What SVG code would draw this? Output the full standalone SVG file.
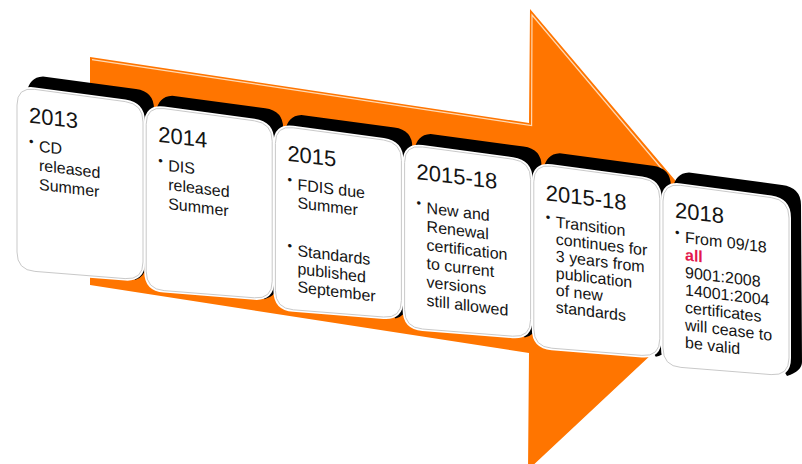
<svg xmlns="http://www.w3.org/2000/svg" width="802" height="464" viewBox="0 0 802 464">
<style>
.arrow{fill:#ff7500}
.hl{fill:none;stroke:#ffd9b3;stroke-width:1.2}
.back{fill:#000}
.face{fill:#fff;stroke:#fff;stroke-width:4}
.rim{fill:none;stroke:#c9c9c9;stroke-width:1}
text{font-family:"Liberation Sans",Arial,sans-serif;fill:#141414}
.yr{font-size:22px}
.tx{font-size:16px}
.bu{font-size:13px}
.red{fill:#e3174d;font-weight:bold}
</style>
<defs>
<path id="face" d="M0,18 Q0,0 17.8,2.4 L108.2,14.6 Q126,17 126,35 L126,175 Q126,193 108.1,191.6 L17.9,184.4 Q0,183 0,165 Z"/>
</defs>
<rect width="802" height="464" fill="#fff"/>
<g id="arrow">
<polygon class="arrow" points="90,57 529,123 530,9 747,265 528,470 529,353 90,285"/>
<polyline class="hl" points="92,59.6 531.6,125.6 532,15 662,169"/>
</g>
<g id="connectors"/>
<g id="card-2013" transform="translate(17,87)">
<path class="back" d="M10,4 C12,-4 16,-10 26,-10.5 L119,2 Q137,4.5 137,22 L128,180 Q128,190 118,193 Z"/>
<use href="#face" class="face"/><use href="#face" class="rim"/>
<g transform="skewY(7)">
<text class="yr" x="12" y="34">2013</text>
<text class="bu" x="12" y="57">•</text>
<text class="tx"><tspan x="22" y="62">CD</tspan><tspan x="22" y="81">released</tspan><tspan x="22" y="100">Summer</tspan></text>
</g>
</g>
<g id="card-2014" transform="translate(146.2,106.2)">
<path class="back" d="M10,4 C12,-4 16,-10 26,-10.5 L119,2 Q137,4.5 137,22 L130,180 Q130,190 118,193 Z"/>
<use href="#face" class="face"/><use href="#face" class="rim"/>
<g transform="skewY(7)">
<text class="yr" x="12" y="34">2014</text>
<text class="bu" x="12" y="57">•</text>
<text class="tx"><tspan x="22" y="62">DIS</tspan><tspan x="22" y="81">released</tspan><tspan x="22" y="100">Summer</tspan></text>
</g>
</g>
<g id="card-2015" transform="translate(275.4,125.4)">
<path class="back" d="M10,4 C12,-4 16,-10 26,-10.5 L119,2 Q137,4.5 137,22 L131,180 Q131,190 120,193 Z"/>
<use href="#face" class="face"/><use href="#face" class="rim"/>
<g transform="skewY(7)">
<text class="yr" x="12" y="34">2015</text>
<text class="bu" x="12" y="57">•</text>
<text class="tx"><tspan x="22" y="62">FDIS due</tspan><tspan x="22" y="80">Summer</tspan></text>
<text class="bu" x="12" y="123">•</text>
<text class="tx"><tspan x="22" y="128">Standards</tspan><tspan x="22" y="146">published</tspan><tspan x="22" y="164">September</tspan></text>
</g>
</g>
<g id="card-2015-18-a" transform="translate(404.6,144.6)">
<path class="back" d="M10,4 C12,-4 16,-10 26,-10.5 L119,2 Q137,4.5 137,22 L132,180 Q132,190 120,193 Z"/>
<use href="#face" class="face"/><use href="#face" class="rim"/>
<g transform="skewY(7)">
<text class="yr" x="12" y="33">2015-18</text>
<text class="bu" x="12" y="61">•</text>
<text class="tx"><tspan x="22" y="66">New and</tspan><tspan x="22" y="84.5">Renewal</tspan><tspan x="22" y="103">certification</tspan><tspan x="22" y="121.5">to current</tspan><tspan x="22" y="140">versions</tspan><tspan x="22" y="158.5">still allowed</tspan></text>
</g>
</g>
<g id="card-2015-18-b" transform="translate(533.8,163.8)">
<path class="back" d="M10,4 C12,-4 16,-10 26,-10.5 L119,2 Q137,4.5 137,22 L135,180 Q135,190 122,193 Z"/>
<use href="#face" class="face"/><use href="#face" class="rim"/>
<g transform="skewY(7)">
<text class="yr" x="12" y="35">2015-18</text>
<text class="bu" x="12" y="56">•</text>
<text class="tx"><tspan x="22" y="61">Transition</tspan><tspan x="22" y="78">continues for</tspan><tspan x="22" y="95">3 years from</tspan><tspan x="22" y="112">publication</tspan><tspan x="22" y="129">of new</tspan><tspan x="22" y="146">standards</tspan></text>
</g>
</g>
<g id="card-2018" transform="translate(663,183)">
<path class="back" d="M10,4 C12,-4 16,-10 26,-10.5 L119,2 Q138,4.5 138,22 L139,179 Q139,188 124,193 Z"/>
<use href="#face" class="face"/><use href="#face" class="rim"/>
<g transform="skewY(7)">
<text class="yr" x="12" y="33">2018</text>
<text class="bu" x="12" y="52">•</text>
<text class="tx"><tspan x="22" y="57">From 09/18</tspan><tspan x="22" y="74.5" class="red">all</tspan><tspan x="22" y="92">9001:2008</tspan><tspan x="22" y="109.5">14001:2004</tspan><tspan x="22" y="127">certificates</tspan><tspan x="22" y="144.5">will cease to</tspan><tspan x="22" y="162">be valid</tspan></text>
</g>
</g>
</svg>
